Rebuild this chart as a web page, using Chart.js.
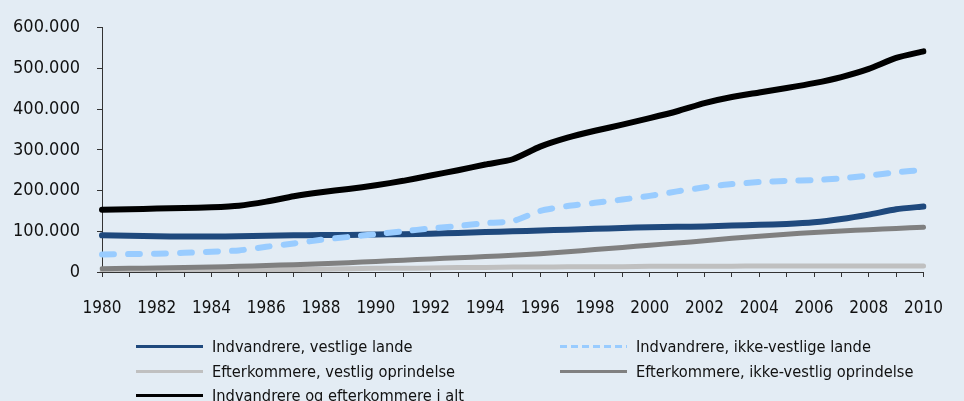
<!DOCTYPE html>
<html>
<head>
<meta charset="utf-8">
<script src="https://cdn.jsdelivr.net/npm/chart.js@4.4.1/dist/chart.umd.min.js"></script>
<style>
    html, body { margin: 0; padding: 0; background: #e3ecf4; }
    #wrap { position: relative; width: 964px; height: 401px; overflow: hidden; }
    #chart { position: absolute; left: 0; top: 0; }
    .legend-item { position: absolute; height: 20px; display: flex; align-items: center;
        font-family: 'DejaVu Sans Condensed', 'DejaVu Sans', sans-serif; font-size: 16.3px; color: #111; white-space: nowrap; }
    .legend-item .swatch { width: 67px; height: 3px; margin-right: 9px; }
</style>
</head>
<body>
<div id="wrap">
    <canvas id="chart" width="964" height="401"></canvas>
</div>
<script>
// Danish immigrant population 1980-2010 (values in persons)
const years = [1980, 1981, 1982, 1983, 1984, 1985, 1986, 1987, 1988, 1989, 1990,
    1991, 1992, 1993, 1994, 1995, 1996, 1997, 1998, 1999, 2000,
    2001, 2002, 2003, 2004, 2005, 2006, 2007, 2008, 2009, 2010];

const indvVestlige = [90000, 89000, 88000, 87000, 87000, 88000, 89000, 90000, 91000, 91000, 92000,
    93000, 94000, 96000, 98000, 100000, 102000, 104000, 106000, 108000, 110000,
    111000, 112000, 114000, 116000, 118000, 122000, 130000, 141000, 154000, 161000];

const indvIkkeVestlige = [43000, 44000, 45000, 47000, 50000, 53000, 62000, 70000, 79000, 86000, 93000,
    100000, 107000, 113000, 120000, 125000, 150000, 162000, 170000, 178000, 187000,
    198000, 208000, 216000, 221000, 224000, 226000, 230000, 237000, 245000, 251000];

const efterVestlig = [3000, 3000, 4000, 4000, 5000, 5000, 6000, 6000, 7000, 8000, 9000,
    9000, 10000, 11000, 11000, 12000, 12000, 13000, 13000, 13000, 14000,
    14000, 14000, 14000, 15000, 15000, 15000, 15000, 15000, 15000, 15000];

const efterIkkeVestlig = [8000, 9000, 10000, 11000, 12000, 14000, 16000, 18000, 20000, 23000, 26000,
    29000, 32000, 35000, 38000, 41000, 45000, 50000, 55000, 60000, 66000,
    71000, 77000, 83000, 88000, 93000, 97000, 101000, 104000, 107000, 110000];

const iAlt = [153000, 154000, 156000, 157000, 159000, 163000, 173000, 186000, 196000, 204000, 213000,
    224000, 237000, 250000, 264000, 277000, 308000, 330000, 347000, 362000, 378000,
    395000, 415000, 430000, 441000, 452000, 464000, 479000, 499000, 526000, 542000];

const seriesNames = [
    'Indvandrere, vestlige lande',
    'Indvandrere, ikke-vestlige lande',
    'Efterkommere, vestlig oprindelse',
    'Efterkommere, ikke-vestlig oprindelse',
    'Indvandrere og efterkommere i alt'
];

const FONT = "'DejaVu Sans Condensed', 'DejaVu Sans', sans-serif";

// danish thousands separator: 100000 -> 100.000
function fmt(v) {
    return String(v).replace(/\B(?=(\d{3})+(?!\d))/g, '.');
}

function line(label, data, color, order, width, dash) {
    return {
        label, data, order,
        borderColor: color,
        backgroundColor: color,
        borderWidth: width,
        borderDash: dash || [],
        borderCapStyle: 'round',
        borderJoinStyle: 'round',
        pointRadius: 0,
        tension: 0.2,
        fill: false
    };
}

const datasets = [
    line(seriesNames[0], indvVestlige, '#1f497d', 2, 6),
    line(seriesNames[1], indvIkkeVestlige, '#99ccff', 1, 6, [12, 14]),
    line(seriesNames[2], efterVestlig, '#c0c0c0', 4, 5),
    line(seriesNames[3], efterIkkeVestlig, '#808080', 3, 5),
    line(seriesNames[4], iAlt, '#000000', 0, 6)
];

const ctx = document.getElementById('chart').getContext('2d');
const chart = new Chart(ctx, {
    type: 'line',
    data: { labels: years, datasets },
    options: {
        responsive: false,
        animation: false,
        layout: { padding: { top: 23, right: 21, bottom: 0, left: 0 } },
        plugins: { legend: { display: false }, tooltip: { enabled: false } },
        scales: {
            x: {
                offset: false,
                afterFit: (s) => { s.height = 129; },
                border: { color: '#333', width: 1 },
                grid: { display: true, drawOnChartArea: false, drawTicks: true, tickLength: 5, color: '#333' },
                ticks: {
                    autoSkip: false, maxRotation: 0, padding: 21,
                    color: '#111', font: { family: FONT, size: 17 },
                    callback: (v, i) => (i % 2 === 0 ? years[i] : '')
                }
            },
            y: {
                min: 0, max: 600000,
                afterFit: (s) => { s.width = 102; },
                border: { color: '#333', width: 1 },
                grid: { display: true, drawOnChartArea: false, drawTicks: true, tickLength: 5, color: '#333' },
                ticks: {
                    stepSize: 100000, padding: 17,
                    color: '#111', font: { family: FONT, size: 18 },
                    callback: (v) => fmt(v)
                }
            }
        }
    }
});

// two-column legend below the axis
const legendPos = [
    { x: 136, y: 336 }, { x: 560, y: 336 },
    { x: 136, y: 361 }, { x: 560, y: 361 },
    { x: 136, y: 385 }
];
const wrap = document.getElementById('wrap');
datasets.forEach((ds, i) => {
    const item = document.createElement('div');
    item.className = 'legend-item';
    item.style.left = legendPos[i].x + 'px';
    item.style.top = legendPos[i].y + 'px';
    const sw = document.createElement('span');
    sw.className = 'swatch';
    sw.style.background = ds.borderDash.length
        ? `repeating-linear-gradient(to right, ${ds.borderColor} 0 7px, transparent 7px 11px)`
        : ds.borderColor;
    const txt = document.createElement('span');
    txt.textContent = ds.label;
    item.appendChild(sw);
    item.appendChild(txt);
    wrap.appendChild(item);
});
</script>
</body>
</html>
